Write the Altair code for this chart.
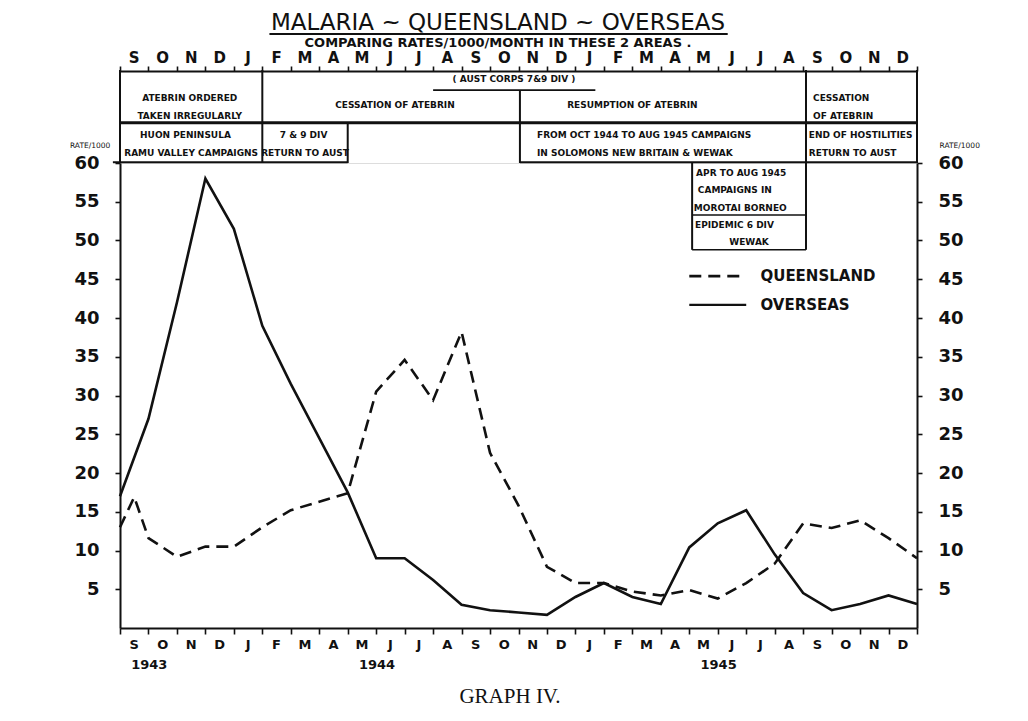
import altair as alt
import pandas as pd

# ---------------- data ----------------
months = ["S", "O", "N", "D", "J", "F", "M", "A", "M", "J", "J", "A", "S", "O",
          "N", "D", "J", "F", "M", "A", "M", "J", "J", "A", "S", "O", "N", "D"]
years = ["1943", "1944", "1945"]
year_start_index = [0, 8, 20]

overseas_month = list(range(29))
overseas_rate = [17.0, 27.0, 42.0, 58.0, 51.5, 39.0, 31.5, 24.5, 17.5, 9.0,
                 9.0, 6.2, 3.0, 2.3, 2.0, 1.7, 4.0, 5.8, 4.0, 3.1,
                 10.4, 13.5, 15.2, 9.5, 4.5, 2.3, 3.1, 4.2, 3.1]

queensland_month = [0, 0.5] + list(range(1, 29))
queensland_rate = [13.0, 16.9, 11.6, 9.2, 10.5, 10.5, 13.0, 15.2, 16.3, 17.4,
                   30.5, 34.6, 29.4, 38.2, 22.6, 15.8, 7.9, 5.8, 5.8, 4.7,
                   4.2, 4.9, 3.8, 5.8, 8.3, 13.5, 12.9, 13.9, 11.6, 9.0]

y_ticks = [5, 10, 15, 20, 25, 30, 35, 40, 45, 50, 55, 60]

title_text = "MALARIA ~ QUEENSLAND ~ OVERSEAS"
subtitle_text = "COMPARING RATES/1000/MONTH IN THESE 2 AREAS ."
caption_text = "GRAPH IV."

# annotation table (x in month index, y in rate units above the plot)
table_center_text = ["( AUST CORPS 7&9 DIV )", "ATEBRIN ORDERED", "TAKEN IRREGULARLY",
                     "CESSATION OF ATEBRIN", "RESUMPTION OF ATEBRIN",
                     "HUON PENINSULA", "RAMU VALLEY CAMPAIGNS", "7 & 9 DIV",
                     "RETURN TO AUST", "WEWAK"]
table_center_x = [13.84, 2.45, 2.45, 9.66, 18.0, 2.3, 2.5, 6.45, 6.5, 22.1]
table_center_y = [70.9, 68.4, 66.1, 67.5, 67.5, 63.6, 61.3, 63.6, 61.3, 49.8]

table_left_text = ["CESSATION", "OF ATEBRIN", "FROM OCT 1944 TO AUG 1945 CAMPAIGNS",
                   "IN SOLOMONS NEW BRITAIN & WEWAK", "END OF HOSTILITIES",
                   "RETURN TO AUST", "APR TO AUG 1945", "CAMPAIGNS IN",
                   "MOROTAI BORNEO", "EPIDEMIC 6 DIV"]
table_left_x = [24.35, 24.35, 14.65, 14.65, 24.2, 24.2, 20.24, 20.3, 20.16, 20.2]
table_left_y = [68.4, 66.1, 63.6, 61.3, 63.6, 61.3, 58.7, 56.5, 54.2, 52.0]

# table borders
h_x = [11.0, 0.0, -0.25, 14.05, 20.1, 20.1]
h_x2 = [16.7, 28.0, 8.0, 28.0, 24.1, 24.1]
h_y = [69.4, 65.2, 60.1, 60.1, 53.3, 48.8]
h_w = [1.6, 3.0, 2.0, 2.0, 1.6, 1.6]

v_x = [0.0, 5.0, 8.0, 14.05, 24.1, 20.1, 28.0]
v_y = [60.0, 60.0, 60.0, 60.0, 48.8, 48.8, 60.0]
v_y2 = [72.0, 72.0, 65.2, 69.4, 72.0, 60.1, 72.0]

# ---------------- chart ----------------
W, H = 797, 465
INK = "#111111"
FONT = "DejaVu Sans"
xsc = alt.Scale(domain=[0, 28], nice=False, zero=False)
ysc = alt.Scale(domain=[0, 60], nice=False, zero=False)


def X(f, **kw):
    return alt.X(f, type="quantitative", scale=xsc, axis=None, **kw)


def Y(f, **kw):
    return alt.Y(f, type="quantitative", scale=ysc, axis=None, **kw)


qld = pd.DataFrame({"m": queensland_month, "r": queensland_rate})
ovs = pd.DataFrame({"m": overseas_month, "r": overseas_rate})

axis_common = dict(domainColor=INK, tickColor=INK, labelColor=INK, grid=False,
                   title=None, domainWidth=2, tickWidth=1.6)

qld_line = alt.Chart(qld).mark_line(color=INK, strokeWidth=2.6, strokeDash=[12, 7]).encode(
    x=alt.X("m:Q", scale=xsc,
            axis=alt.Axis(orient="top", offset=92, values=list(range(29)), labels=False,
                          tickSize=5, **axis_common)),
    y=alt.Y("r:Q", scale=ysc,
            axis=alt.Axis(orient="left", values=y_ticks, tickSize=5, labelFontSize=18,
                          labelFont=FONT, labelFontWeight="bold", labelPadding=16,
                          **axis_common)),
)

ovs_line = alt.Chart(ovs).mark_line(color=INK, strokeWidth=2.6).encode(
    x=alt.X("m:Q", scale=xsc,
            axis=alt.Axis(orient="bottom", values=list(range(29)), labels=False,
                          tickSize=6, **axis_common)),
    y=alt.Y("r:Q", scale=ysc,
            axis=alt.Axis(orient="right", values=y_ticks, tickSize=5, labelFontSize=18,
                          labelFont=FONT, labelFontWeight="bold", labelPadding=16,
                          **axis_common)),
)

# month letters, top and bottom
mdf = pd.DataFrame({"m": [i + 0.5 for i in range(len(months))], "t": months})
top_months = alt.Chart(mdf).mark_text(font=FONT, fontWeight="bold", fontSize=15,
                                      color=INK).encode(
    x=X("m"), y=alt.value(-105), text="t:N")
bot_months = alt.Chart(mdf).mark_text(font=FONT, fontWeight="bold", fontSize=13,
                                      color=INK).encode(
    x=X("m"), y=alt.value(482), text="t:N")
ydf = pd.DataFrame({"m": [i + 0.5 for i in year_start_index], "t": years})
year_lbl = alt.Chart(ydf).mark_text(font=FONT, fontWeight="bold", fontSize=13,
                                    color=INK, align="left", dx=-3).encode(
    x=X("m"), y=alt.value(502), text="t:N")

# table borders
hdf = pd.DataFrame({"x": h_x, "x2": h_x2, "y": h_y, "w": h_w})
hrules = alt.Chart(hdf).mark_rule(color=INK).encode(
    x=X("x"), x2="x2:Q", y=Y("y"), size=alt.Size("w:Q", scale=None))
vdf = pd.DataFrame({"x": v_x, "y": v_y, "y2": v_y2})
vrules = alt.Chart(vdf).mark_rule(color=INK, strokeWidth=2).encode(
    x=X("x"), y=Y("y"), y2="y2:Q")

cdf = pd.DataFrame({"x": table_center_x, "y": table_center_y, "t": table_center_text})
ctext = alt.Chart(cdf).mark_text(font=FONT, fontWeight="bold", fontSize=9,
                                 color=INK, align="center").encode(
    x=X("x"), y=Y("y"), text="t:N")
ldf = pd.DataFrame({"x": table_left_x, "y": table_left_y, "t": table_left_text})
ltext = alt.Chart(ldf).mark_text(font=FONT, fontWeight="bold", fontSize=9,
                                 color=INK, align="left").encode(
    x=X("x"), y=Y("y"), text="t:N")

# legend
legdf = pd.DataFrame({"x": [20.0], "x2": [22.0], "yq": [45.4], "yo": [41.7],
                      "tx": [22.5], "tq": ["QUEENSLAND"], "to": ["OVERSEAS"]})
leg_q = alt.Chart(legdf).mark_rule(color=INK, strokeWidth=2.6, strokeDash=[12, 7]).encode(
    x=X("x"), x2="x2:Q", y=Y("yq"))
leg_o = alt.Chart(legdf).mark_rule(color=INK, strokeWidth=2.2).encode(
    x=X("x"), x2="x2:Q", y=Y("yo"))
leg_qt = alt.Chart(legdf).mark_text(font=FONT, fontWeight="bold", fontSize=15, color=INK,
                                    align="left").encode(x=X("tx"), y=Y("yq"), text="tq:N")
leg_ot = alt.Chart(legdf).mark_text(font=FONT, fontWeight="bold", fontSize=15, color=INK,
                                    align="left").encode(x=X("tx"), y=Y("yo"), text="to:N")

# headings
head = pd.DataFrame({"cx": [13.28], "t1": [title_text], "t2": [subtitle_text],
                     "t3": [caption_text], "ux": [5.25], "ux2": [21.35],
                     "rl": [-1.05], "rr": [29.5], "rt": ["RATE/1000"]})
title = alt.Chart(head).mark_text(font=FONT, fontSize=23, color=INK,
                                  baseline="alphabetic").encode(
    x=X("cx"), y=alt.value(-133), text="t1:N")
underline = alt.Chart(head).mark_rule(color=INK, strokeWidth=2).encode(
    x=X("ux"), x2="ux2:Q", y=alt.value(-129))
subtitle = alt.Chart(head).mark_text(font=FONT, fontWeight="bold", fontSize=13,
                                     color=INK).encode(
    x=X("cx"), y=alt.value(-120), text="t2:N")
caption = alt.Chart(head).mark_text(font="Liberation Serif", fontSize=21, color=INK,
                                    dx=12).encode(
    x=X("cx"), y=alt.value(534), text="t3:N")
rate_l = alt.Chart(head).mark_text(font=FONT, fontSize=7.5, color=INK).encode(
    x=X("rl"), y=alt.value(-17), text="rt:N")
rate_r = alt.Chart(head).mark_text(font=FONT, fontSize=7.5, color=INK).encode(
    x=X("rr"), y=alt.value(-17), text="rt:N")

chart = alt.layer(
    qld_line, ovs_line, top_months, bot_months, year_lbl, hrules, vrules, ctext, ltext,
    leg_q, leg_o, leg_qt, leg_ot, title, underline, subtitle, caption, rate_l, rate_r,
).resolve_scale(y="independent").resolve_axis(x="independent", y="independent").properties(
    width=W, height=H,
    padding={"left": 112, "top": 155, "right": 100, "bottom": 80},
    autosize=alt.AutoSizeParams(type="none"),
).configure_view(stroke=None).configure(background="white")

chart.save("out.html", embed_options={"renderer": "svg", "actions": False})
